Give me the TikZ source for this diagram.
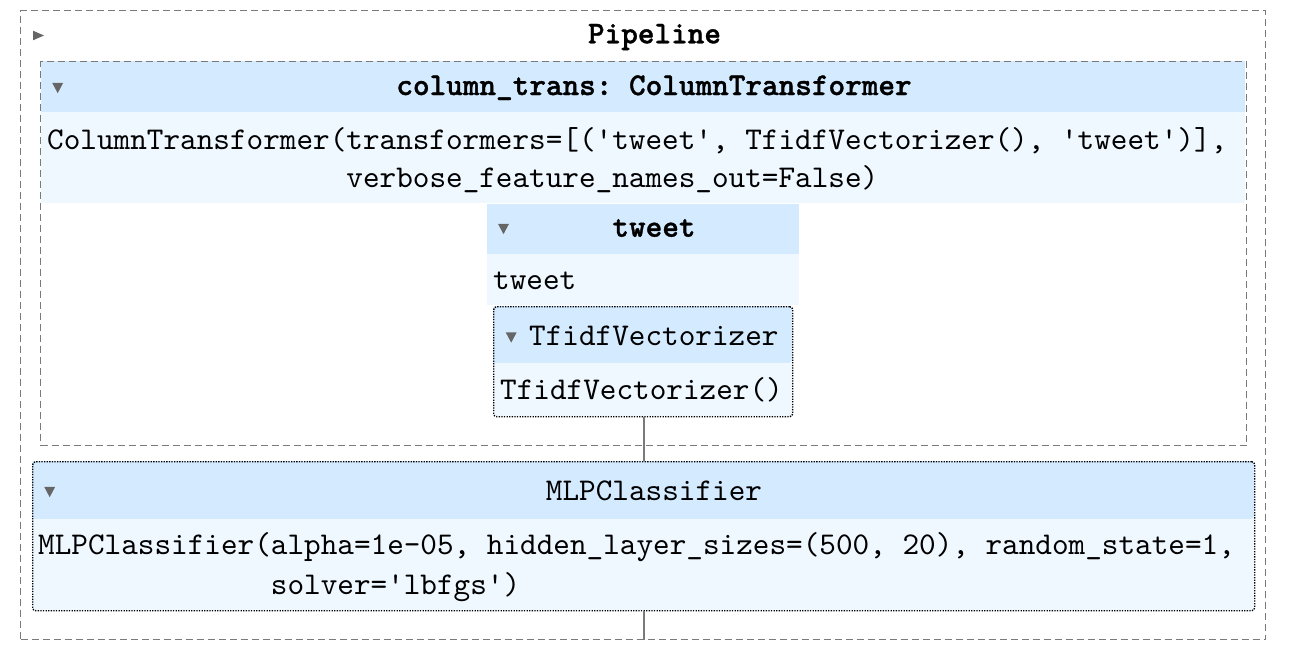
\documentclass[tikz,border=0pt]{standalone}
\usepackage{fontspec}
\setmonofont{lmmono10-regular.otf}[BoldFont=lmmonolt10-bold.otf, BoldFeatures={FakeBold=1.2}]
\definecolor{hdr}{HTML}{D4EBFF}
\definecolor{bdy}{HTML}{F0F8FF}
\definecolor{trig}{HTML}{666666}
\definecolor{dashc}{HTML}{7A7A7A}
\begin{document}
\begin{tikzpicture}[x=1pt,y=-1pt,
  txt/.style={inner sep=0pt, font=\fontsize{31.66}{41}\selectfont\ttfamily},
  btxt/.style={txt, font=\fontsize{31.66}{41}\selectfont\ttfamily\bfseries},
  dashbox/.style={draw=dashc, line width=1.4pt, dash pattern=on 7pt off 4pt, inner sep=0pt, anchor=north west},
  dotbox/.style={draw=black, line width=1.4pt, dash pattern=on 1.3pt off 1.3pt, rounded corners=3pt, inner sep=0pt, anchor=north west},
  plainbox/.style={inner sep=0pt, anchor=north west},
  conn/.style={draw=dashc, line width=1.2pt},
  dtri/.pic={\fill[trig] (-5.5,-5.2) -- (5.5,-5.2) -- (0,5.2) -- cycle;},
  rtri/.pic={\fill[trig] (-5.5,-4.8) -- (-5.5,4.8) -- (5.5,0) -- cycle;}
]
\useasboundingbox (0,0) rectangle (1302,656);
\fill[white] (0,0) rectangle (1302,656);

% fills
\fill[hdr] (41,61) rectangle (1245,112);
\fill[bdy] (41,112) rectangle (1245,203);
\fill[hdr] (487,204) rectangle (799,254);
\fill[bdy] (487,254) rectangle (799,305);
\fill[hdr, rounded corners=3pt] (493,306) -- (792,306) -- (792,363) [sharp corners] -- (493,363) [rounded corners=3pt] -- cycle;
\fill[bdy, rounded corners=3pt] (493,363) [sharp corners] -- (792,363) [rounded corners=3pt] -- (792,416) -- (493,416) -- cycle;
\fill[hdr, rounded corners=3pt] (32,461) -- (1254,461) -- (1254,519) [sharp corners] -- (32,519) [rounded corners=3pt] -- cycle;
\fill[bdy, rounded corners=3pt] (32,519) [sharp corners] -- (1254,519) [rounded corners=3pt] -- (1254,610) -- (32,610) -- cycle;

% boxes
\node[dashbox, minimum width=1245pt, minimum height=629pt] (pipe) at (20,10) {};
\node[dashbox, minimum width=1206pt, minimum height=384pt] (ct) at (40,61) {};
\node[plainbox, minimum width=312pt, minimum height=101pt] (tw) at (487,204) {};
\node[dotbox, minimum width=299pt, minimum height=110pt] (tfidf) at (493,306) {};
\node[dotbox, minimum width=1222pt, minimum height=149pt] (mlp) at (32,461) {};

% connectors
\draw[conn] (tfidf.south -| 644,0) -- (mlp.north -| 644,0);
\draw[conn] (mlp.south -| 644,0) -- (pipe.south -| 644,0);

% triangles
\pic at (38.5,35.5) {rtri};
\pic at (57.7,88) {dtri};
\pic at (503.5,229) {dtri};
\pic at (511.2,337.5) {dtri};
\pic at (49.7,492) {dtri};

% texts
\node[btxt, anchor=base] (tpipe) at (654.5,43.3) {Pipeline};
\node[btxt, anchor=base] (tct) at (654,95) {column\_trans: ColumnTransformer};
\node[txt, anchor=base west] (ctb1) at (47,149.3) {ColumnTransformer(transformers=[('tweet', TfidfVectorizer(), 'tweet')],};
\node[txt, anchor=base west] (ctb2) at (346.2,187) {verbose\_feature\_names\_out=False)};
\node[btxt, anchor=base] (ttw) at (654,236.7) {tweet};
\node[txt, anchor=base west] (twb) at (493,289) {tweet};
\node[txt, anchor=base west] (ttf) at (529,345) {TfidfVectorizer};
\node[txt, anchor=base west] (tfb) at (500,399.3) {TfidfVectorizer()};
\node[txt, anchor=base] (tmlp) at (654,500.7) {MLPClassifier};
\node[txt, anchor=base west] (mlb1) at (38,554) {MLPClassifier(alpha=1e-05, hidden\_layer\_sizes=(500, 20), random\_state=1,};
\node[txt, anchor=base west] (mlb2) at (270.7,594.5) {solver='lbfgs')};
\end{tikzpicture}
\end{document}
